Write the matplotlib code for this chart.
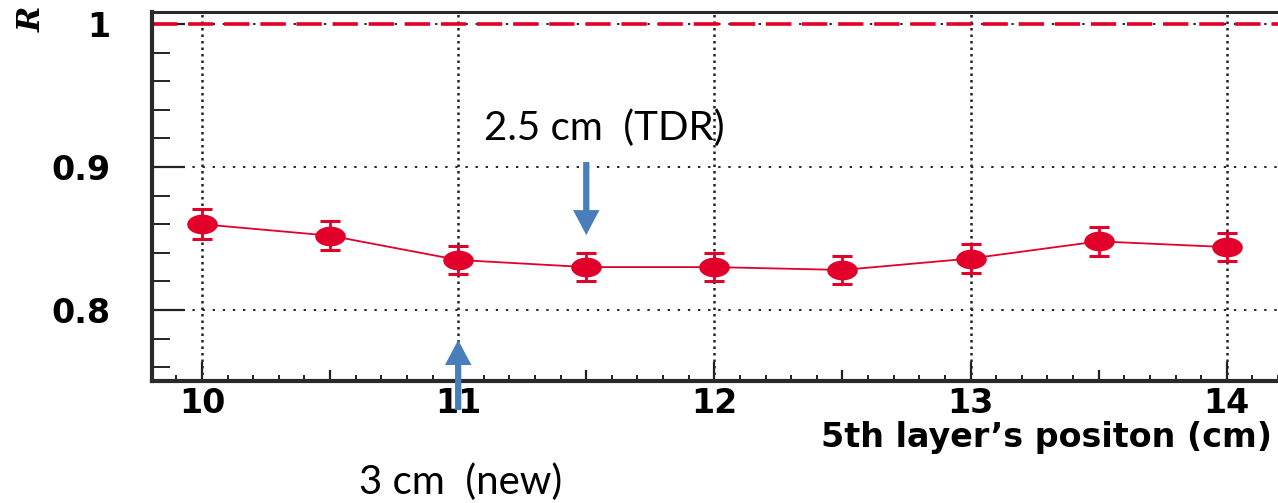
import numpy as np
import matplotlib
matplotlib.use("Agg")
import matplotlib.pyplot as plt
from matplotlib.path import Path
from matplotlib.transforms import Affine2D
from matplotlib.ticker import MultipleLocator

# 5th layer position scan
position = [10.0, 10.5, 11.0, 11.5, 12.0, 12.5, 13.0, 13.5, 14.0]
ratio = [0.860, 0.852, 0.835, 0.830, 0.830, 0.828, 0.836, 0.848, 0.844]
ratio_err = [0.0105, 0.010, 0.010, 0.010, 0.010, 0.010, 0.010, 0.010, 0.010]

x_ticks = [10, 11, 12, 13, 14]
y_ticks = [0.8, 0.9, 1.0]
y_tick_labels = ["0.8", "0.9", "1"]

red = "#e2002a"
blue = "#4a7ebb"
tick_font = dict(family="DejaVu Sans", weight="bold", size=24)

fig = plt.figure(figsize=(12.78, 5.03), dpi=100)
ax = fig.add_axes([152 / 1278, 1 - 381 / 503, 1 - 152 / 1278, 369 / 503])
ax.set_xlim(9.805, 14.2)
ax.set_ylim(0.7503, 1.0085)

# flattened-circle marker, wider than tall
oval = Path.unit_circle().transformed(Affine2D().scale(1.55, 1.0))

ax.axhline(1.0, color=red, lw=2.6, ls=(0, (7, 3)), zorder=2)
ax.errorbar(position, ratio, yerr=ratio_err, fmt="none", ecolor=red,
            elinewidth=2.0, capsize=7, capthick=2.2, zorder=3)
ax.plot(position, ratio, color=red, lw=1.3, marker=oval, markersize=22,
        markeredgewidth=0, zorder=4)

# grid on major ticks only
ax.set_xticks(x_ticks)
ax.set_yticks(y_ticks)
ax.set_yticklabels(y_tick_labels)
ax.xaxis.set_minor_locator(MultipleLocator(0.1))
ax.yaxis.set_minor_locator(MultipleLocator(0.02))
ax.xaxis.grid(True, which="major", color="#222222", lw=1.8, ls=(0, (1.0, 1.6)))
ax.yaxis.grid(True, which="major", color="#222222", lw=1.4, ls=(0, (1.2, 4)))

# half-unit ticks on the x axis
for x in np.arange(10.5, 14.2, 1.0):
    ax.plot([x, x], [0.7503, 0.7575], color="#222222", lw=1.6, zorder=2)

ax.tick_params(axis="both", which="both", direction="in", color="#222222")
ax.tick_params(axis="x", which="major", length=14, width=1.6, pad=4)
ax.tick_params(axis="x", which="minor", length=4, width=1.4)
ax.tick_params(axis="y", which="major", length=24, width=1.6, pad=30)
ax.tick_params(axis="y", which="minor", length=13, width=1.4)
for lab in ax.get_xticklabels() + ax.get_yticklabels():
    lab.set(**tick_font)

ax.spines["left"].set_linewidth(3)
ax.spines["bottom"].set_linewidth(3)
ax.spines["top"].set_linewidth(2.2)
for s in ["left", "bottom", "top"]:
    ax.spines[s].set_color("#2a2a2a")
ax.spines["right"].set_visible(False)

fig.text(1272 / 1278, 1 - 437 / 503, "5th layer\u2019s positon (cm)",
         ha="right", va="center", **tick_font)
fig.text(32 / 1278, 1 - 19 / 503, "R", rotation=90, ha="center", va="center",
         family="DejaVu Serif", style="italic", weight="bold", size=22)

# arrows marking the two layouts
arrow_kw = dict(width=4.5, headwidth=19, headlength=18, shrink=0.0,
                facecolor=blue, edgecolor="none")
ax.annotate("", xy=(11.5, 0.8524), xytext=(11.5, 0.9035),
            annotation_clip=False, arrowprops=arrow_kw)
ax.annotate("", xy=(11.0, 0.779), xytext=(11.0, 0.730),
            annotation_clip=False, arrowprops=arrow_kw)
fig.text(604 / 1278, 1 - 128 / 503, "2.5 cm  (TDR)", ha="center", va="center",
         family="Lato", size=29, color="black")
fig.text(461 / 1278, 1 - 482 / 503, "3 cm  (new)", ha="center", va="center",
         family="Lato", size=29, color="black")

fig.savefig("out.png", dpi=100)
